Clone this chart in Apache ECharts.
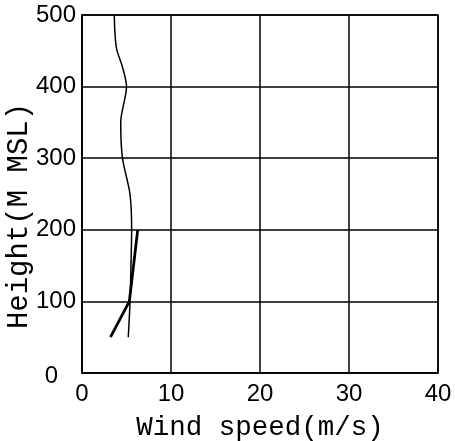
<!DOCTYPE html>
<html>
<head>
<meta charset="utf-8">
<script src="https://cdn.jsdelivr.net/npm/echarts@6/dist/echarts.min.js"></script>
<style>html,body{margin:0;padding:0;background:#fff}#c{width:455px;height:441px}</style>
</head>
<body>
<div id="c"></div>
<script>
// Thin profile: [wind speed (m/s), height (m)]
const thinSpeed  = [5.2, 5.4, 5.5, 5.58, 5.39, 4.55, 4.35, 5.0, 4.53, 3.9, 3.7, 3.63];
const thinHeight = [50, 100, 150, 200, 250, 300, 350, 400, 428, 452, 475, 500];
// Thick profile
const thickSpeed  = [3.2, 5.32, 6.26];
const thickHeight = [50, 100, 200];
const xTicks = [0, 10, 20, 30, 40];
const yTicks = [0, 100, 200, 300, 400, 500];

const pair = (xs, ys) => xs.map((x, i) => [x, ys[i]]);
const chart = echarts.init(document.getElementById('c'), null, {renderer: 'canvas'});
chart.setOption({
  animation: false,
  backgroundColor: '#fff',
  grid: {left: 82, right: 17, top: 15, bottom: 68, show: true, borderColor: '#000', borderWidth: 1.5,
         containLabel: false, outerBoundsMode: 'none'},
  xAxis: {
    type: 'value', min: xTicks[0], max: xTicks[xTicks.length - 1], interval: 10,
    name: 'Wind speed(m/s)', nameLocation: 'middle', nameGap: 41, nameMoveOverlap: false,
    nameTextStyle: {fontFamily: 'Liberation Mono', fontSize: 27.5, color: '#000'},
    axisLine: {show: true, lineStyle: {color: '#000', width: 1.5}},
    axisTick: {show: false},
    axisLabel: {margin: 9, fontFamily: 'Liberation Sans', fontSize: 24, color: '#000'},
    splitLine: {show: true, lineStyle: {color: '#000', width: 1.5}}
  },
  yAxis: {
    type: 'value', min: yTicks[0], max: yTicks[yTicks.length - 1], interval: 100,
    name: 'Height(M MSL)', nameLocation: 'middle', nameGap: 48, nameMoveOverlap: false,
    nameTextStyle: {fontFamily: 'Liberation Mono', fontSize: 29, color: '#000', padding: [0, 44, 0, 0]},
    axisLine: {show: true, lineStyle: {color: '#000', width: 1.5}},
    axisTick: {show: false},
    axisLabel: {
      margin: 6, fontFamily: 'Liberation Sans', fontSize: 24, color: '#000',
      formatter: v => v === 0 ? '{z|0}' : String(v),
      rich: {z: {fontFamily: 'Liberation Sans', fontSize: 24, color: '#000', padding: [6, 18, 0, 0]}}
    },
    splitLine: {show: true, lineStyle: {color: '#000', width: 1.5}}
  },
  series: [
    {type: 'line', data: pair(thinSpeed, thinHeight), showSymbol: false, smooth: 0.3,
     lineStyle: {color: '#000', width: 1.5}},
    {type: 'line', data: pair(thickSpeed, thickHeight), showSymbol: false,
     lineStyle: {color: '#000', width: 2.8}}
  ]
});
</script>
</body>
</html>
